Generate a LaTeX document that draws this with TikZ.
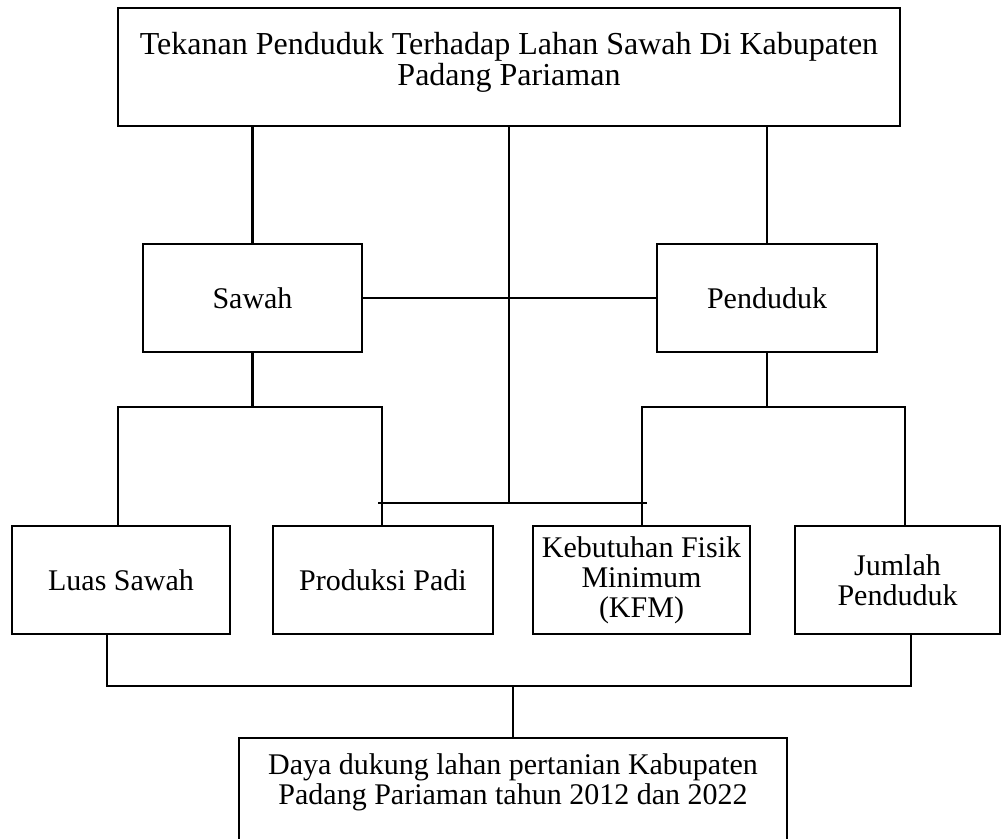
\documentclass[tikz,border=0pt]{standalone}
\usepackage{fontspec}
\setmainfont{Liberation Serif}
\usetikzlibrary{positioning,calc}
\newcommand{\dfont}{\fontsize{30}{30}\selectfont}
\newcommand{\dbigfont}{\fontsize{32}{31}\selectfont}
\tikzset{dbox/.style={draw, line width=2.5pt, inner sep=0pt, align=center, font=\dfont}}
\tikzset{dline/.style={draw, line width=2.5pt}}

\begin{document}
\begin{tikzpicture}[x=1pt, y=-1pt]
				\useasboundingbox (0,0) rectangle (1003,838);
				\node[dbox, font=\dbigfont, text depth=17pt, minimum width=782, minimum height=118] (top) at (509,67) {Tekanan Penduduk Terhadap Lahan Sawah Di Kabupaten\\Padang Pariaman};
				\node[dbox, minimum width=219, minimum height=108] (sawah) at (252.5,298) {Sawah};
				\node[dbox, minimum width=220, minimum height=108] (penduduk) at (767,298) {Penduduk};
				\node[dbox, minimum width=218, minimum height=108] (luas) at (121,580) {Luas Sawah};
				\node[dbox, minimum width=220, minimum height=108] (produksi) at (383,580) {Produksi Padi};
				\node[dbox, minimum width=217, minimum height=108] (kfm) at (641.5,580) {Kebutuhan Fisik\\Minimum\\(KFM)};
				\node[dbox, minimum width=205, minimum height=108] (jumlah) at (897.5,580) {Jumlah\\Penduduk};
				\node[dbox, text depth=21pt, minimum width=548, minimum height=103] (hasil) at (513,789.5) {Daya dukung lahan pertanian Kabupaten\\Padang Pariaman tahun 2012 dan 2022};
				% cabang atas
				\draw[dline] (sawah.north |- top.south) -- (sawah.north);
				\draw[dline] (penduduk.north |- top.south) -- (penduduk.north);
				\draw[dline] (sawah.east) -- (penduduk.west);
				\coordinate (cl) at (378,503);
				\coordinate (cr) at (647,503);
				\draw[dline] (top.south) -- (top.south |- cl);
				\draw[dline] (cl) -- (cr);
				% cabang sawah dan penduduk
				\coordinate (sl) at (118,407);
				\coordinate (sr) at (382,407);
				\coordinate (pl) at (642,407);
				\coordinate (pr) at (905,407);
				\draw[dline] (sawah.south) -- (sawah.south |- sl);
				\draw[dline] (penduduk.south) -- (penduduk.south |- pl);
				\draw[dline] (sl |- luas.north) -- (sl) -- (sr) -- (sr |- produksi.north);
				\draw[dline] (pl |- kfm.north) -- (pl) -- (pr) -- (pr |- jumlah.north);
				% ke hasil
				\coordinate (bl) at (107,686);
				\coordinate (br) at (911,686);
				\draw[dline] (bl |- luas.south) -- (bl) -- (br) -- (br |- jumlah.south);
				\draw[dline] (hasil.north |- bl) -- (hasil.north);
			\end{tikzpicture}
\end{document}
